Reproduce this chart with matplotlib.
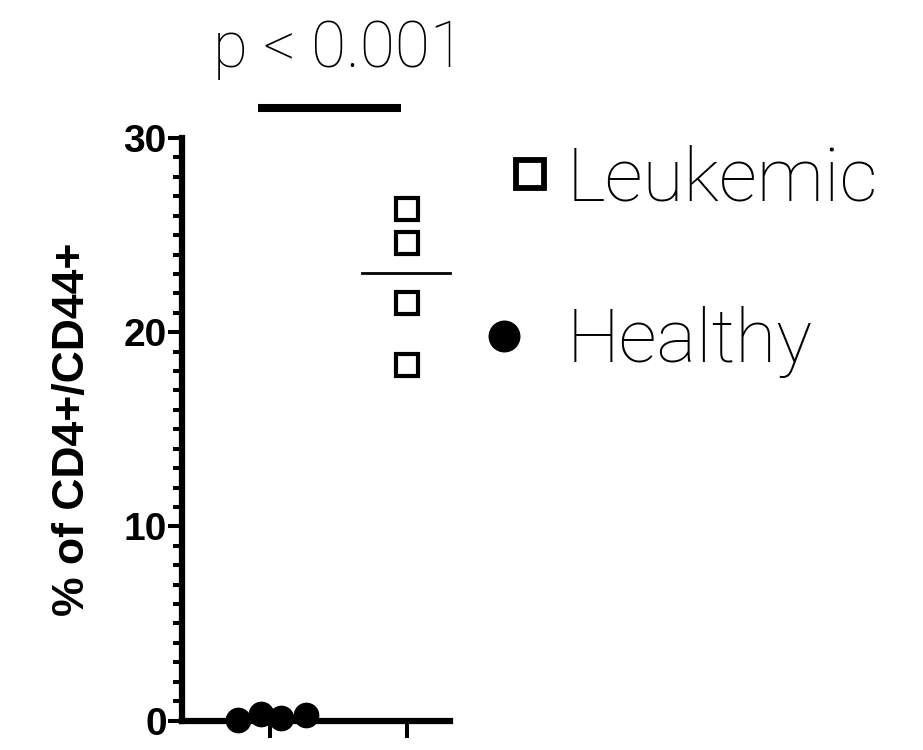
import numpy as np
import matplotlib.pyplot as plt
from matplotlib.lines import Line2D

groups = ["Healthy", "Leukemic"]
healthy_x = [-0.24, -0.07, 0.08, 0.26]
healthy_y = [0.02, 0.36, 0.15, 0.26]
leuk_x = [1.0, 1.0, 1.0, 1.0]
leuk_y = [26.35, 24.6, 21.5, 18.3]
p_text = "p < 0.001"

fig = plt.figure(figsize=(9.23, 7.5), dpi=100)
ax = fig.add_axes([0.1972, 0.0393, 0.2904, 0.7767])

ax.plot(healthy_x, healthy_y, "o", color="black", markersize=17.5, clip_on=False, zorder=3)
ax.plot(leuk_x, leuk_y, "s", markerfacecolor="white", markeredgecolor="black",
        markeredgewidth=3, markersize=16.5, clip_on=False, zorder=3)

# median lines
ax.plot([0.67, 1.32], [np.median(leuk_y)] * 2, color="black", lw=2, clip_on=False)
ax.plot([-0.32, 0.32], [np.median(healthy_y)] * 2, color="black", lw=2, zorder=2)

ax.set_xlim(-0.65, 1.32)
ax.set_ylim(0, 30)
ax.set_yticks([0, 10, 20, 30])
ax.set_yticks(np.arange(0, 31, 1), minor=True)
ax.set_xticks([0, 1])
ax.set_xticklabels(["", ""])

for s in ["top", "right"]:
    ax.spines[s].set_visible(False)
for s in ["left", "bottom"]:
    ax.spines[s].set_linewidth(4.5)
    ax.spines[s].set_capstyle("projecting")
ax.tick_params(axis="y", which="major", length=10, width=2.9, labelsize=28, pad=1)
ax.tick_params(axis="y", which="minor", length=6.5, width=2.9)
ax.tick_params(axis="x", which="major", length=12, width=2.9)
for lbl in ax.get_yticklabels():
    lbl.set_fontweight("bold")
    lbl.set_family("Liberation Sans")

ax.set_ylabel("% of CD4+/CD44+", fontsize=32, fontweight="bold", family="Liberation Sans", labelpad=22)

# significance bar
ax.plot([-0.09, 0.963], [31.55, 31.55], color="black", lw=5.8, clip_on=False, solid_capstyle="butt")
ax.text(0.5, 33.66, p_text, ha="center", va="baseline", fontsize=46, family="Roboto",
        fontweight="light", clip_on=False)

legend_font = {"family": "Roboto", "weight": "light", "size": 54}
leuk_handle = Line2D([], [], marker="s", ls="none", markerfacecolor="white", markeredgecolor="black",
                     markeredgewidth=4.2, markersize=20, label="Leukemic")
healthy_handle = Line2D([], [], marker="o", ls="none", color="black", markersize=22, label="Healthy")

fig.legend(handles=[leuk_handle], loc="center left", bbox_to_anchor=(507 / 923, 1 - 180 / 750),
           frameon=False, prop=legend_font, borderpad=0, borderaxespad=0,
           handlelength=0.6, handletextpad=0.19)
fig.legend(handles=[healthy_handle], loc="center left", bbox_to_anchor=(481 / 923, 1 - 342 / 750),
           frameon=False, prop=legend_font, borderpad=0, borderaxespad=0,
           handlelength=0.6, handletextpad=0.54)

fig.savefig("out.png", dpi=100)
